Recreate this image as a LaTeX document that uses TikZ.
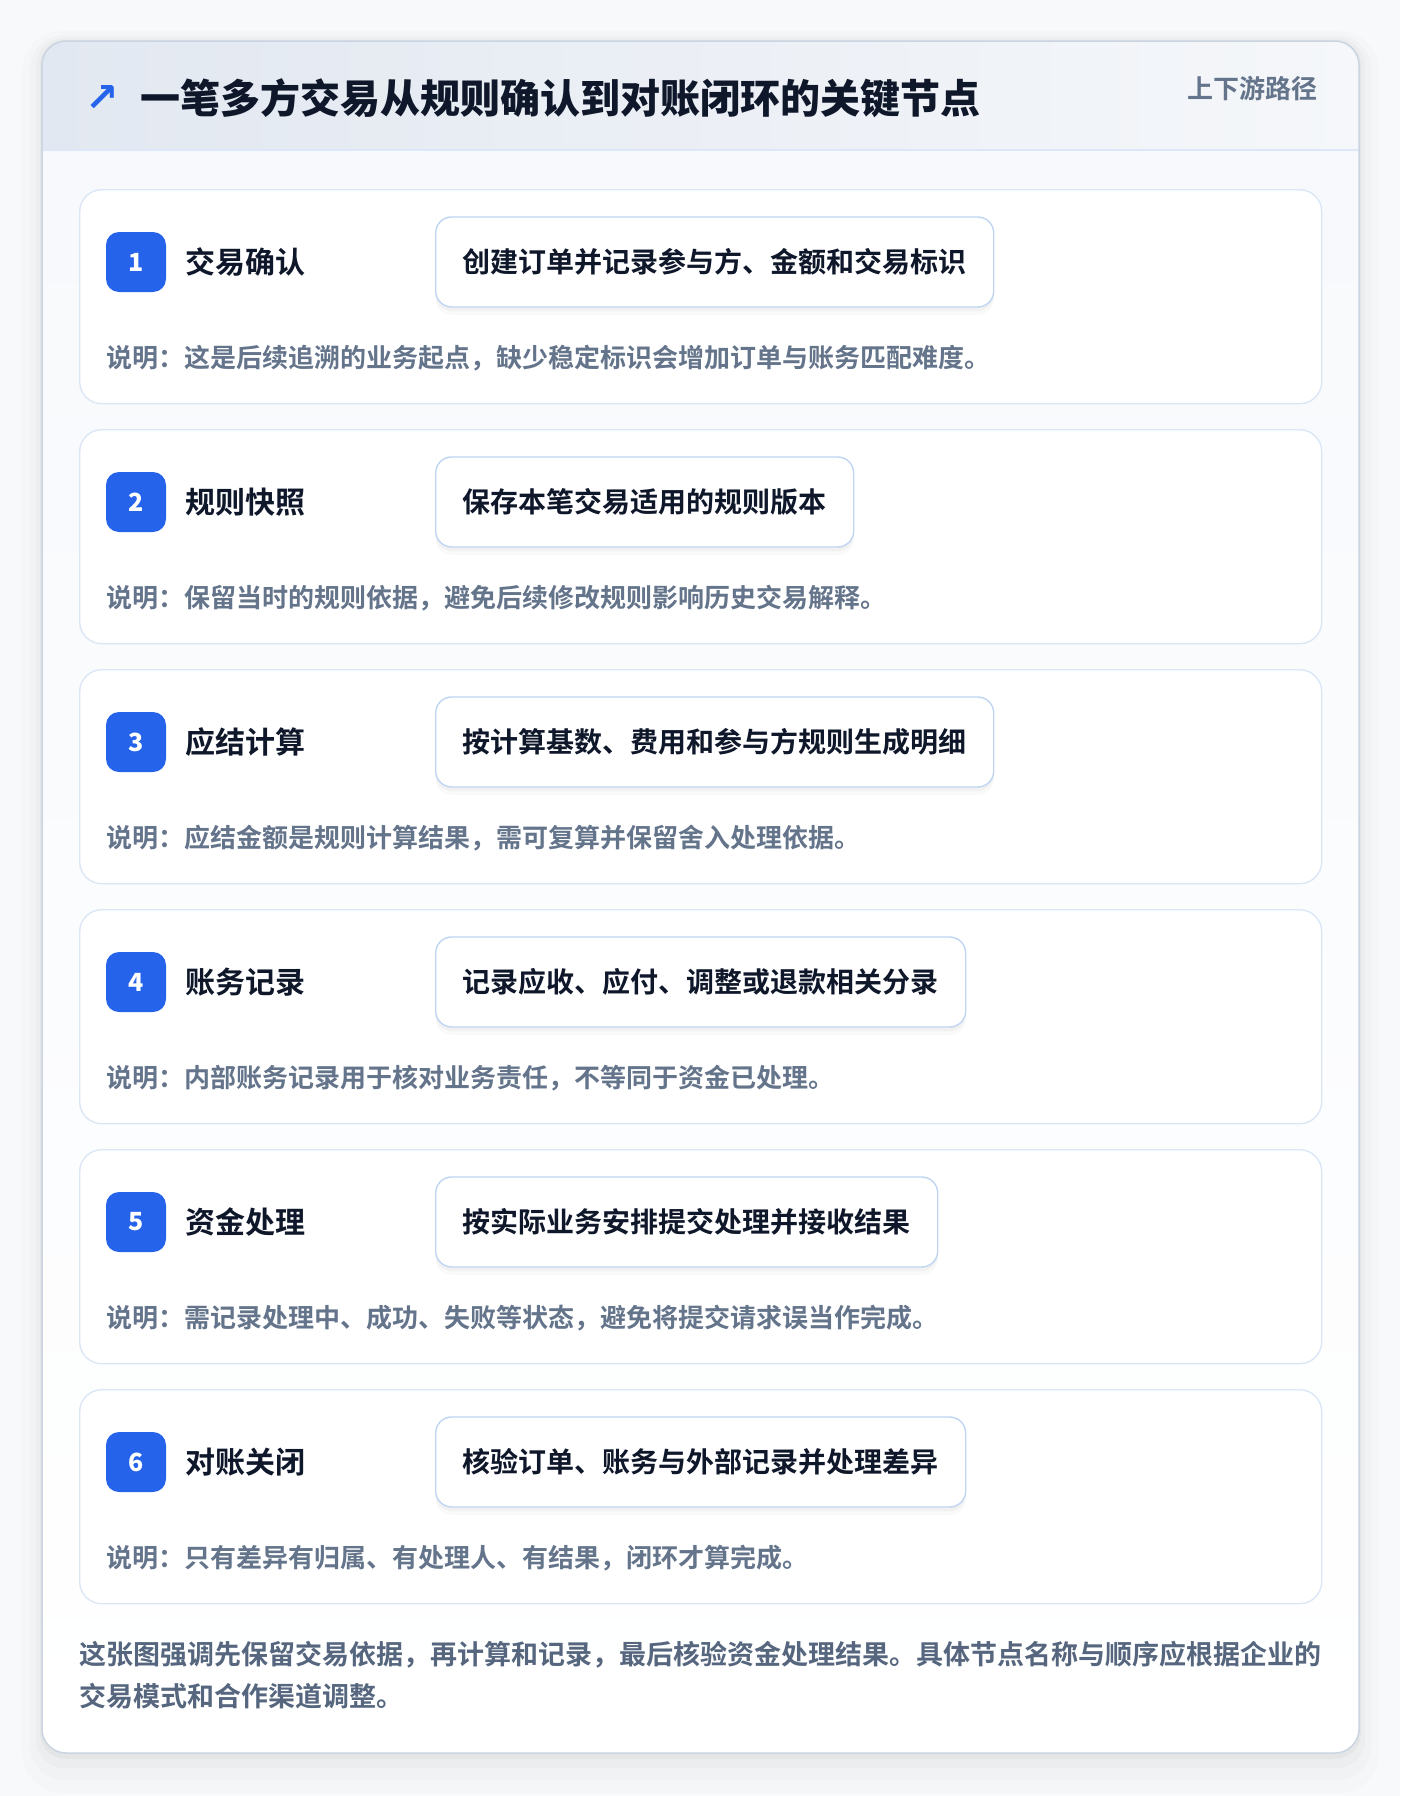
\documentclass[tikz,border=0pt]{standalone}
\usepackage{fontspec}
\setmainfont{Noto Sans CJK SC}[BoldFont={Noto Sans CJK SC Bold}]
\newfontfamily\heavyfont{Noto Sans CJK SC Black}
\newfontfamily\symfont{DejaVu Sans}
\usetikzlibrary{positioning,shadows}
\XeTeXlinebreaklocale "zh"
\XeTeXlinebreakskip=0pt plus 4pt

\definecolor{pagebg}{HTML}{F8F9FB}
\definecolor{outerline}{HTML}{CBD5E1}
\definecolor{headl}{HTML}{E2E8F1}
\definecolor{headr}{HTML}{F5F7FA}
\definecolor{headline}{HTML}{DCE8F7}
\definecolor{bodytop}{HTML}{F7F9FC}
\definecolor{cardline}{HTML}{DCE7F6}
\definecolor{boxline}{HTML}{BFD5F2}
\definecolor{badgeblue}{HTML}{2563EB}
\definecolor{titlecol}{HTML}{0F172A}
\definecolor{notecol}{HTML}{64748B}
\definecolor{footcol}{HTML}{56667E}

\newcommand\fsz[1]{\fontsize{#1}{#1}\selectfont}

\begin{document}
\begin{tikzpicture}[x=1pt,y=-1pt,
    card/.style={draw=cardline,line width=1.4pt,fill=white,rounded corners=22pt,
        minimum width=1242pt,minimum height=214pt,anchor=north west,inner sep=0pt},
    badge/.style={fill=badgeblue,rounded corners=13pt,minimum width=60pt,minimum height=60pt,
        inner sep=0pt,text=white,font=\heavyfont\fsz{25}},
    steptitle/.style={anchor=west,inner sep=0pt,text=titlecol,font=\bfseries\fsz{30}},
    actionbox/.style={draw=boxline,line width=1.4pt,fill=white,rounded corners=16pt,anchor=west,
        minimum height=90pt,inner xsep=27pt,inner ysep=0pt,text=titlecol,font=\bfseries\fsz{28},
        preaction={fill=black,opacity=0.025,transform canvas={yshift=-8pt}},
        preaction={fill=black,opacity=0.03,transform canvas={yshift=-4pt}}},
    note/.style={anchor=west,inner sep=0pt,text=notecol,font=\bfseries\fsz{26}},
    foot/.style={anchor=west,inner sep=0pt,text=footcol,font=\bfseries\fsz{27}}]

    % page and card shadow
    \fill[pagebg] (0,0) rectangle (1400,1796);
    \fill[black,opacity=0.012,rounded corners=40pt] (22,31) rectangle (1379,1793);
    \fill[black,opacity=0.015,rounded corners=34pt] (30,35) rectangle (1371,1780);
    \fill[black,opacity=0.02,rounded corners=28pt] (36,38) rectangle (1365,1768);
    \fill[black,opacity=0.03,rounded corners=26pt] (40,40) rectangle (1361,1759);

    % outer card
    \begin{scope}
        \clip[rounded corners=24pt] (42,41) rectangle (1359,1753);
        \shade[top color=bodytop,bottom color=white] (42,150) rectangle (1359,1753);
        \shade[left color=headl,right color=headr] (42,41) rectangle (1359,150);
    \end{scope}
    \draw[headline,line width=1.5pt] (42,150) -- (1359,150);
    \draw[outerline,line width=1.5pt,rounded corners=24pt] (42,41) rectangle (1359,1753);

    % header
    \node[text=badgeblue,inner sep=0pt,font=\symfont\bfseries\fsz{40}] (icon) at (102,99) {↗};
    \node[anchor=west,inner sep=0pt,text=titlecol,font=\heavyfont\fsz{40}] (title) at (140,98)
        {一笔多方交易从规则确认到对账闭环的关键节点};
    \node[anchor=east,inner sep=0pt,text=notecol,font=\bfseries\fsz{26}] (path) at (1318,89)
        {上下游路径};

    % step 1
    \node[card] (c1) at (79,189) {};
    \node[badge] (b1) at (136,262) {1};
    \node[steptitle,right=19pt of b1] (t1) {交易确认};
    \node[actionbox] (a1) at (435,262) {创建订单并记录参与方、金额和交易标识};
    \node[note] (n1) at (106,358) {说明：这是后续追溯的业务起点，缺少稳定标识会增加订单与账务匹配难度。};

    % step 2
    \node[card] (c2) at (79,429) {};
    \node[badge] (b2) at (136,502) {2};
    \node[steptitle,right=19pt of b2] (t2) {规则快照};
    \node[actionbox] (a2) at (435,502) {保存本笔交易适用的规则版本};
    \node[note] (n2) at (106,598) {说明：保留当时的规则依据，避免后续修改规则影响历史交易解释。};

    % step 3
    \node[card] (c3) at (79,669) {};
    \node[badge] (b3) at (136,742) {3};
    \node[steptitle,right=19pt of b3] (t3) {应结计算};
    \node[actionbox] (a3) at (435,742) {按计算基数、费用和参与方规则生成明细};
    \node[note] (n3) at (106,838) {说明：应结金额是规则计算结果，需可复算并保留舍入处理依据。};

    % step 4
    \node[card] (c4) at (79,909) {};
    \node[badge] (b4) at (136,982) {4};
    \node[steptitle,right=19pt of b4] (t4) {账务记录};
    \node[actionbox] (a4) at (435,982) {记录应收、应付、调整或退款相关分录};
    \node[note] (n4) at (106,1078) {说明：内部账务记录用于核对业务责任，不等同于资金已处理。};

    % step 5
    \node[card] (c5) at (79,1149) {};
    \node[badge] (b5) at (136,1222) {5};
    \node[steptitle,right=19pt of b5] (t5) {资金处理};
    \node[actionbox] (a5) at (435,1222) {按实际业务安排提交处理并接收结果};
    \node[note] (n5) at (106,1318) {说明：需记录处理中、成功、失败等状态，避免将提交请求误当作完成。};

    % step 6
    \node[card] (c6) at (79,1389) {};
    \node[badge] (b6) at (136,1462) {6};
    \node[steptitle,right=19pt of b6] (t6) {对账关闭};
    \node[actionbox] (a6) at (435,1462) {核验订单、账务与外部记录并处理差异};
    \node[note] (n6) at (106,1558) {说明：只有差异有归属、有处理人、有结果，闭环才算完成。};

    % footer
    \node[foot,text width=1242pt,align=justify] (f1) at (79,1655)
        {\parfillskip=0pt 这张图强调先保留交易依据，再计算和记录，最后核验资金处理结果。具体节点名称与顺序应根据企业的};
    \node[foot] (f2) at (79,1696) {交易模式和合作渠道调整。};
\end{tikzpicture}
\end{document}
